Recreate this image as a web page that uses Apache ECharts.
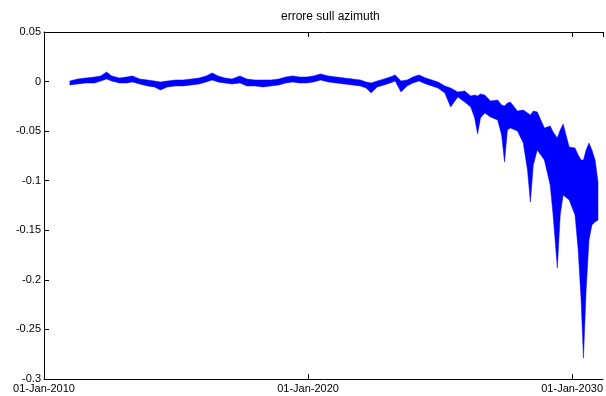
<!DOCTYPE html>
<html>
<head>
<meta charset="utf-8">
<script src="https://cdn.jsdelivr.net/npm/echarts@6/dist/echarts.min.js"></script>
<style>
  html, body { margin: 0; padding: 0; background: #fff; }
  #chart { width: 606px; height: 396px; }
</style>
</head>
<body>
<div id="chart"></div>
<script>
// time in decimal years
const years = [
  2010.98, 2011.28, 2011.58, 2011.92, 2012.15, 2012.37, 2012.56, 2012.86, 2013.13, 2013.35,
  2013.62, 2013.92, 2014.18, 2014.41, 2014.67, 2014.97, 2015.27, 2015.57, 2015.88, 2016.14,
  2016.37, 2016.59, 2016.85, 2017.12, 2017.42, 2017.68, 2017.99, 2018.29, 2018.59, 2018.89,
  2019.15, 2019.42, 2019.68, 2019.94, 2020.21, 2020.47, 2020.77, 2021.07, 2021.37, 2021.68,
  2021.98, 2022.20, 2022.39, 2022.62, 2022.88, 2023.11, 2023.30, 2023.52, 2023.75, 2023.97,
  2024.20, 2024.46, 2024.69, 2024.92, 2025.18, 2025.40, 2025.67, 2025.93, 2026.16, 2026.31,
  2026.42, 2026.53, 2026.69, 2026.91, 2027.18, 2027.33, 2027.44, 2027.55, 2027.66, 2027.93,
  2028.15, 2028.31, 2028.42, 2028.53, 2028.68, 2028.95, 2029.17, 2029.28, 2029.44, 2029.55,
  2029.66, 2029.89, 2030.11, 2030.23, 2030.34, 2030.43, 2030.53, 2030.64, 2030.75, 2030.87,
  2030.98
];

// upper edge of the oscillating error band
const errUpper = [
  0.0006, 0.0026, 0.0036, 0.0046, 0.0057, 0.0097, 0.0057, 0.0036, 0.0046, 0.0057,
  0.0026, 0.0016, 0.0006, -0.0004, 0.0006, 0.0016, 0.0016, 0.0026, 0.0036, 0.0057,
  0.0087, 0.0057, 0.0036, 0.0026, 0.0057, 0.0026, 0.0016, 0.0016, 0.0016, 0.0026,
  0.0046, 0.0057, 0.0046, 0.0046, 0.0057, 0.0077, 0.0057, 0.0046, 0.0036, 0.0026,
  0.0016, -0.0004, -0.0014, 0.0006, 0.0026, 0.0046, 0.0067, 0.0006, 0.0016, 0.0046,
  0.0067, 0.0036, 0.0016, -0.0004, -0.0044, -0.0065, -0.0105, -0.0095, -0.0145, -0.0135,
  -0.0145, -0.0125, -0.0135, -0.0196, -0.0186, -0.0236, -0.0246, -0.0216, -0.0206, -0.0297,
  -0.0287, -0.0317, -0.0337, -0.0297, -0.0307, -0.0468, -0.0448, -0.0509, -0.0569, -0.0488,
  -0.0428, -0.0660, -0.0670, -0.0741, -0.0791, -0.0791, -0.0690, -0.0620, -0.0690, -0.0791,
  -0.1013
];

// lower edge of the oscillating error band
const errLower = [
  -0.0034, -0.0024, -0.0014, -0.0014, 0.0006, 0.0026, 0.0006, -0.0014, -0.0014, -0.0004,
  -0.0024, -0.0044, -0.0054, -0.0085, -0.0054, -0.0044, -0.0044, -0.0034, -0.0024, -0.0004,
  0.0016, -0.0004, -0.0014, -0.0024, -0.0014, -0.0044, -0.0044, -0.0054, -0.0044, -0.0034,
  -0.0014, -0.0004, -0.0014, -0.0014, -0.0004, 0.0016, -0.0004, -0.0014, -0.0024, -0.0034,
  -0.0044, -0.0065, -0.0115, -0.0054, -0.0034, -0.0014, 0.0006, -0.0105, -0.0044, -0.0014,
  0.0006, -0.0024, -0.0044, -0.0065, -0.0115, -0.0256, -0.0155, -0.0206, -0.0256, -0.0367,
  -0.0529, -0.0367, -0.0317, -0.0357, -0.0387, -0.0539, -0.0811, -0.0488, -0.0468, -0.0498,
  -0.0620, -0.0892, -0.1215, -0.0842, -0.0690, -0.0791, -0.1043, -0.1346, -0.1881, -0.1346,
  -0.1144, -0.1195, -0.1346, -0.1699, -0.2204, -0.2789, -0.2103, -0.1598, -0.1447, -0.1417,
  -0.1397
];

const xTicks = [2010, 2020, 2030];
const titleText = 'errore sull azimuth';

const chart = echarts.init(document.getElementById('chart'), null, { renderer: 'canvas' });

const fontFam = 'Liberation Sans, Arial, sans-serif';

const axisCommon = {
  axisLine: { show: true, onZero: false, lineStyle: { color: '#000', width: 1 } },
  axisTick: { show: true, inside: true, length: 5, lineStyle: { color: '#000' } },
  splitLine: { show: false }
};

const option = {
  animation: false,
  backgroundColor: '#fff',
  title: {
    text: titleText,
    left: 281,
    top: 11,
    padding: 0,
    textStyle: { fontFamily: fontFam, fontSize: 12, fontWeight: 'normal', color: '#000' }
  },
  // the plot box runs past the right edge of the picture
  grid: { left: 44, right: 0, top: 32, bottom: 17, containLabel: false },
  xAxis: [
    Object.assign({
      type: 'value',
      position: 'bottom',
      min: 2010,
      max: 2031.17,
      interval: 10,
      axisLabel: {
        margin: 4,
        fontFamily: fontFam,
        fontSize: 11,
        color: '#000',
        showMaxLabel: false,
        formatter: function (v) {
          return xTicks.indexOf(v) >= 0 ? '01-Jan-' + v : '';
        }
      }
    }, axisCommon),
    Object.assign({
      type: 'value',
      position: 'top',
      min: 2010,
      max: 2031.17,
      interval: 10,
      axisLabel: { show: false }
    }, axisCommon)
  ],
  yAxis: [
    Object.assign({
      type: 'value',
      min: -0.3,
      max: 0.05,
      interval: 0.05,
      axisLabel: {
        margin: 3,
        fontFamily: fontFam,
        fontSize: 11,
        color: '#000',
        formatter: function (v) { return String(Math.round(v * 100) / 100); }
      }
    }, axisCommon)
  ],
  series: [
    {
      type: 'custom',
      silent: true,
      xAxisIndex: 0,
      yAxisIndex: 0,
      encode: { x: 0, y: [1, 2] },
      data: years.map(function (y, i) { return [y, errUpper[i], errLower[i]]; }),
      renderItem: function (params, api) {
        if (params.dataIndex !== 0) return;
        const pts = [];
        for (let i = 0; i < years.length; i++) {
          pts.push(api.coord([years[i], errUpper[i]]));
        }
        for (let i = years.length - 1; i >= 0; i--) {
          pts.push(api.coord([years[i], errLower[i]]));
        }
        return {
          type: 'polygon',
          shape: { points: pts },
          style: { fill: '#0000ff', stroke: '#0000ff', lineWidth: 0.5, lineJoin: 'round' }
        };
      }
    }
  ]
};

chart.setOption(option);
</script>
</body>
</html>
